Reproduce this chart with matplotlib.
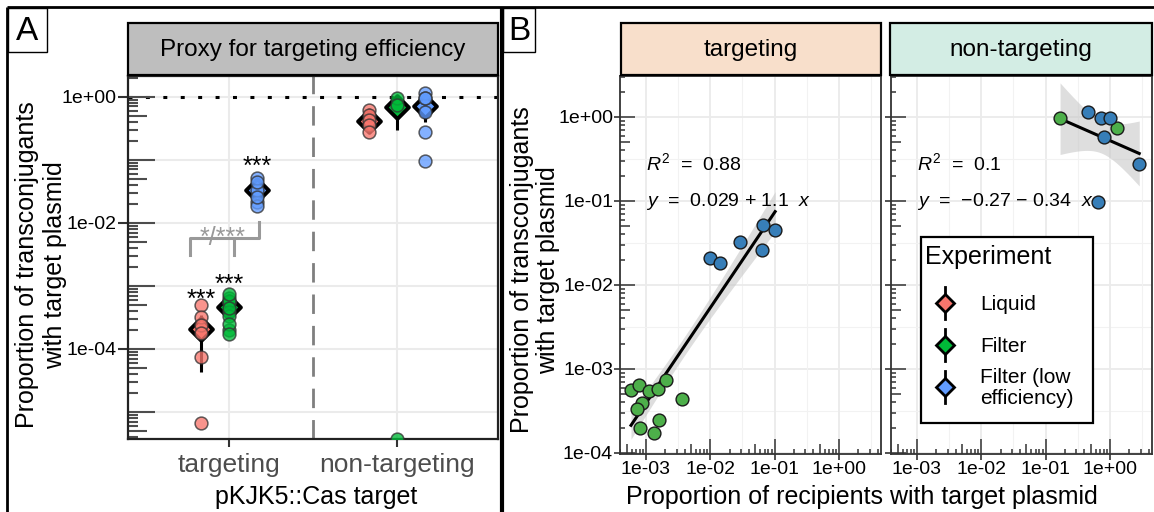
import numpy as np
import matplotlib
matplotlib.use('Agg')
import matplotlib.pyplot as plt
from matplotlib.collections import LineCollection
from matplotlib.transforms import blended_transform_factory
from matplotlib.patches import Rectangle
from matplotlib.ticker import FixedLocator, NullLocator, FuncFormatter

plt.rcParams['font.family'] = ['Liberation Sans', 'DejaVu Sans']
plt.rcParams['mathtext.fontset'] = 'custom'
plt.rcParams['mathtext.rm'] = 'Liberation Sans'
plt.rcParams['mathtext.it'] = 'Liberation Sans:italic'

# ---------------- data ----------------
categories = ['targeting', 'non-targeting']
experiments = ['Liquid', 'Filter', 'Filter (low\nefficiency)']
exp_colors = ['#F8766D', '#00BA38', '#619CFF']

# Panel B (recipient proportion x, transconjugant proportion y)
b_targ_filter_x = [5.85e-4, 7.7e-4, 1.11e-3, 1.55e-3, 2.05e-3, 8.6e-4, 7.3e-4, 8.1e-4, 1.58e-3, 1.35e-3, 3.67e-3]
b_targ_filter_y = [5.6e-4, 6.4e-4, 5.5e-4, 5.8e-4, 7.4e-4, 3.9e-4, 3.3e-4, 2.0e-4, 2.5e-4, 1.73e-4, 4.4e-4]
b_targ_low_x = [1.0e-2, 1.43e-2, 2.9e-2, 6.3e-2, 6.6e-2, 0.102]
b_targ_low_y = [0.021, 0.0183, 0.0325, 0.026, 0.052, 0.045]
b_nontarg_filter_x = [0.168, 1.29]
b_nontarg_filter_y = [0.97, 0.73]
b_nontarg_low_x = [0.457, 0.74, 1.0, 0.81, 2.86, 0.645]
b_nontarg_low_y = [1.16, 0.97, 0.97, 0.58, 0.275, 0.0966]

# Panel A (per-group values)
liquid_targ = [4.9e-4, 3.2e-4, 2.4e-4, 1.8e-4, 7.5e-5, 6.7e-6]
filter_targ = b_targ_filter_y
lowfilter_targ = b_targ_low_y
liquid_nontarg = [0.62, 0.52, 0.43, 0.36, 0.28]
filter_nontarg = b_nontarg_filter_y + [0.0]
lowfilter_nontarg = b_nontarg_low_y

mean_vals = [[2.08e-4, 4.6e-4, 0.0334], [0.415, 0.69, 0.72]]
err_lo = [[4.3e-5, 3.6e-4, 0.026], [0.33, 0.30, 0.40]]
err_hi = [[3.5e-4, 5.8e-4, 0.043], [0.52, 1.0, 1.0]]
star_labels = ['***', '***', '***']
star_y = [4.6e-4, 8.0e-4, 0.06]
pair_label = '*/***'

r2_labels = ['0.88', '0.1']
eq_labels = ['0.029 + 1.1', '\u22120.27 \u2212 0.34']
# two-sided 80% t quantiles for the smoother band
t_crit = {15: 1.341, 6: 1.440}

b_colors = {'Filter': '#4DAF4A', 'low': '#377EB8'}

# ---------------- figure ----------------
W, H = 1154, 512
fig = plt.figure(figsize=(W / 100, H / 100), dpi=100)


def add_ax(x0, y0, x1, y1):
    return fig.add_axes([x0 / W, 1 - y1 / H, (x1 - x0) / W, (y1 - y0) / H])


def logticks(ax, axis, decades, lens, px_len, color, lw):
    segs = []
    for d in decades:
        for k in range(1, 10):
            v = k * 10.0 ** d
            L = lens[0] if k == 1 else (lens[1] if k == 5 else lens[2])
            f = L / px_len
            if axis == 'y':
                segs.append([(0, v), (f, v)])
            else:
                segs.append([(v, 0), (v, f)])
    if axis == 'y':
        tr = blended_transform_factory(ax.transAxes, ax.transData)
    else:
        tr = blended_transform_factory(ax.transData, ax.transAxes)
    lc = LineCollection(segs, colors=color, linewidths=lw, transform=tr, zorder=2.5)
    ax.add_collection(lc, autolim=False)


sci = FuncFormatter(lambda v, _: f"{v:.0e}")

# ---------------- Panel A ----------------
axA = add_ax(128, 76, 498, 439)
axA.set_yscale('log')
ylo_A, yhi_A = 10 ** -5.431, 10 ** 0.328
axA.set_xlim(0.4, 2.6)
axA.set_ylim(ylo_A, yhi_A)
for d in range(-6, 1):
    axA.axhline(10.0 ** d, color='#EBEBEB', lw=1.5, zorder=0)
for i in range(len(categories)):
    axA.axvline(i + 1, color='#EBEBEB', lw=1.5, zorder=0)
axA.axvline(1.5, color='#7F7F7F', lw=2, ls=(0, (7, 4.3)), zorder=1)
axA.axhline(1.0, color='black', lw=2.2, ls=(0, (1.3, 4.4)), zorder=1.5)

groups = [[liquid_targ, filter_targ, lowfilter_targ],
          [liquid_nontarg, filter_nontarg, lowfilter_nontarg]]
for i, grp in enumerate(groups):
    for j, vals in enumerate(grp):
        xp = i + 1 + (j - 1) / 6
        axA.plot([xp, xp], [err_lo[i][j], err_hi[i][j]], color='black', lw=2.2, zorder=3,
                 solid_capstyle='butt')
        axA.scatter([xp], [mean_vals[i][j]], marker='D', s=135, facecolor=exp_colors[j],
                    edgecolor='black', linewidth=2.8, zorder=4)
        v = np.array(vals, dtype=float)
        v = np.where(v <= 0, ylo_A, v)
        axA.scatter(np.full(len(v), xp), v, s=85, facecolor=exp_colors[j], alpha=0.78,
                    edgecolor='#333333', linewidth=1.1, zorder=5)

for j, lab in enumerate(star_labels):
    axA.text(1 + (j - 1) / 6, star_y[j], lab, ha='center', va='baseline', fontsize=18,
             color='black', zorder=6)
# pairwise comparison bracket
bc = '#999999'
axA.plot([0.768, 0.768, 1.179, 1.179], [3.1e-3, 5.8e-3, 5.8e-3, 0.0104], color=bc, lw=2.2, zorder=3)
axA.plot([1.030, 1.030], [5.8e-3, 3.1e-3], color=bc, lw=2.2, zorder=3)
axA.text(0.964, 4.4e-3, pair_label, ha='center', va='baseline', fontsize=18, color=bc, zorder=6)

logticks(axA, 'y', range(-6, 1), (27, 19, 10), 370, '#4D4D4D', 1.5)
axA.yaxis.set_major_locator(FixedLocator([1e-4, 1e-2, 1e0]))
axA.yaxis.set_minor_locator(NullLocator())
axA.yaxis.set_major_formatter(sci)
axA.set_xticks([1, 2])
axA.set_xticklabels(categories)
axA.tick_params(axis='y', length=7.5, width=1.5, color='#333333', labelsize=14, pad=1,
                labelcolor='black')
axA.tick_params(axis='x', length=6, width=1.5, color='#333333', labelsize=19, pad=4,
                labelcolor='#4D4D4D')
for s in axA.spines.values():
    s.set_color('#222222')
    s.set_linewidth(1.6)

# ---------------- Panel B ----------------
bx_lim = (10 ** -3.404, 10 ** 0.655)
by_lim = (10 ** -4.012, 10 ** 0.488)
facets = [
    (add_ax(620, 76, 881, 454), b_targ_filter_x, b_targ_filter_y, b_targ_low_x, b_targ_low_y),
    (add_ax(891, 76, 1152, 454), b_nontarg_filter_x, b_nontarg_filter_y, b_nontarg_low_x, b_nontarg_low_y),
]
for k, (ax, fx, fy, lx, ly) in enumerate(facets):
    ax.set_xscale('log')
    ax.set_yscale('log')
    ax.set_xlim(*bx_lim)
    ax.set_ylim(*by_lim)
    for d in range(-4, 1):
        ax.axvline(10.0 ** d, color='#EBEBEB', lw=1.3, zorder=0)
        ax.axvline(10.0 ** (d + 0.5), color='#F2F2F2', lw=0.8, zorder=0)
        ax.axhline(10.0 ** d, color='#EBEBEB', lw=1.3, zorder=0)
        ax.axhline(10.0 ** (d - 0.5), color='#F2F2F2', lw=0.8, zorder=0)
    # regression in log-log space
    lxall = np.log10(np.array(fx + lx))
    lyall = np.log10(np.array(fy + ly))
    n = len(lxall)
    b1, b0 = np.polyfit(lxall, lyall, 1)
    resid = lyall - (b0 + b1 * lxall)
    s_err = np.sqrt(np.sum(resid ** 2) / (n - 2))
    xm = lxall.mean()
    sxx = np.sum((lxall - xm) ** 2)
    gx = np.linspace(lxall.min(), lxall.max(), 80)
    gy = b0 + b1 * gx
    se = s_err * np.sqrt(1 / n + (gx - xm) ** 2 / sxx)
    t = t_crit[n - 2]
    ax.fill_between(10 ** gx, 10 ** (gy - t * se), 10 ** (gy + t * se), color='#C8C8C8',
                    alpha=0.6, lw=0, zorder=2)
    ax.plot(10 ** gx, 10 ** gy, color='black', lw=2.2, zorder=3)
    ax.scatter(fx, fy, s=85, facecolor=b_colors['Filter'], edgecolor='#1A1A1A', linewidth=1, zorder=4)
    ax.scatter(lx, ly, s=85, facecolor=b_colors['low'], edgecolor='#1A1A1A', linewidth=1, zorder=4)
    ax.text(1.0e-3, 0.283, r'$\it{R}^{2}$  =  ' + r2_labels[k], ha='left', va='center', fontsize=14, zorder=6)
    ax.text(1.0e-3, 0.098, r'$\it{y}$  =  ' + eq_labels[k] + r'  $\it{x}$', ha='left', va='center',
            fontsize=14, zorder=6)
    logticks(ax, 'y', range(-5, 1), (15, 10, 5), 261, '#333333', 1.1)
    logticks(ax, 'x', range(-4, 1), (15, 10, 5), 378, '#333333', 1.1)
    ax.xaxis.set_major_locator(FixedLocator([1e-3, 1e-2, 1e-1, 1e0]))
    ax.xaxis.set_minor_locator(NullLocator())
    ax.xaxis.set_major_formatter(sci)
    ax.yaxis.set_major_locator(FixedLocator([1e-4, 1e-3, 1e-2, 1e-1, 1e0]))
    ax.yaxis.set_minor_locator(NullLocator())
    ax.yaxis.set_major_formatter(sci)
    ax.tick_params(axis='both', length=4, width=1.2, color='#333333', labelsize=14, pad=1)
    if k == 1:
        ax.tick_params(axis='y', labelleft=False)
    for s in ax.spines.values():
        s.set_color('#333333')
        s.set_linewidth(1.3)

# ---------------- overlay: frames, strips, labels, legend ----------------
ov = fig.add_axes([0, 0, 1, 1])
ov.set_xlim(0, W)
ov.set_ylim(H, 0)
ov.axis('off')
ov.patch.set_alpha(0)

ov.plot([7, W], [7, 7], color='black', lw=2, solid_capstyle='butt')
ov.plot([7, 7], [7, H], color='black', lw=2, solid_capstyle='butt')
ov.plot([502, 502], [7, H], color='black', lw=3, solid_capstyle='butt')

for (x0, y0, x1, y1, lab) in [(8, 8, 47, 52, 'A'), (503, 8, 535, 52, 'B')]:
    ov.add_patch(Rectangle((x0, y0), x1 - x0, y1 - y0, facecolor='white', edgecolor='black', lw=1))
    ov.text((x0 + x1) / 2, (y0 + y1) / 2 + 1, lab, ha='center', va='center', fontsize=24)

strips = [(128, 23, 498, 75, '#BEBEBE', 'Proxy for targeting efficiency'),
          (621, 23, 881, 75, '#F8DFCB', 'targeting'),
          (890, 23, 1152, 75, '#D3EDE4', 'non-targeting')]
for (x0, y0, x1, y1, col, lab) in strips:
    ov.add_patch(Rectangle((x0, y0), x1 - x0, y1 - y0, facecolor=col, edgecolor='black', lw=1.6))
    ov.text((x0 + x1) / 2, (y0 + y1) / 2 + 1, lab, ha='center', va='center', fontsize=17.5)

ylab = 'Proportion of transconjugants\nwith target plasmid'
ov.text(41, 265, ylab, rotation=90, ha='center', va='center', fontsize=18, linespacing=1.2)
ov.text(535, 270, ylab, rotation=90, ha='center', va='center', fontsize=18, linespacing=1.15)
ov.text(316, 497, 'pKJK5::Cas target', ha='center', va='center', fontsize=18)
ov.text(862, 497, 'Proportion of recipients with target plasmid', ha='center', va='center', fontsize=18)

# legend
ov.add_patch(Rectangle((921, 237), 172, 186, facecolor='white', edgecolor='black', lw=1.6, zorder=5))
ov.text(925, 257, 'Experiment', ha='left', va='center', fontsize=18, zorder=6)
for j, (lab, col) in enumerate(zip(experiments, exp_colors)):
    yk = 303 + 42 * j
    ov.plot([945, 945], [yk - 16, yk + 16], color='black', lw=2, zorder=6)
    ov.plot([945], [yk], marker='D', markersize=9, markerfacecolor=col, markeredgecolor='black',
            markeredgewidth=2, zorder=7)
    ov.text(980, yk + 1, lab, ha='left', va='center', fontsize=15, linespacing=1.1, zorder=6)

fig.savefig('out.png', dpi=100)
